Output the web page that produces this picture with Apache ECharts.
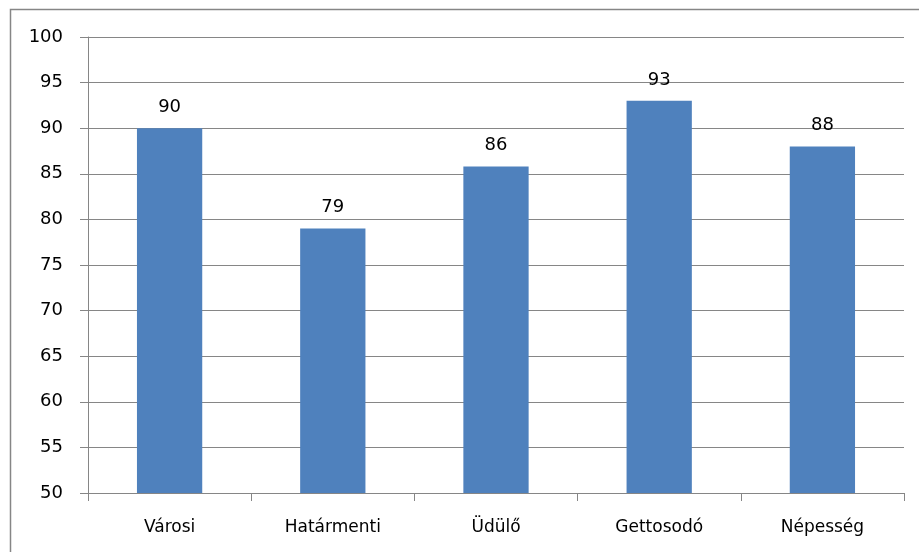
<!DOCTYPE html>
<html>
<head>
<meta charset="utf-8">
<script src="https://cdn.jsdelivr.net/npm/echarts@6/dist/echarts.min.js"></script>
<style>
html,body{margin:0;padding:0;background:#fff;}
#c{width:919px;height:552px;}
</style>
</head>
<body>
<div id="c"></div>
<script>
const categories = ['Városi', 'Határmenti', 'Üdülő', 'Gettosodó', 'Népesség'];
const values = [90, 79, 85.8, 93, 88];
const yTicks = {min: 50, max: 100, interval: 5};

const chart = echarts.init(document.getElementById('c'), null, {renderer: 'canvas'});
chart.setOption({
  animation: false,
  backgroundColor: '#fff',
  graphic: [{
    type: 'rect',
    shape: {x: 10.5, y: 9.5, width: 940, height: 560},
    style: {fill: 'none', stroke: '#868686', lineWidth: 1.5},
    silent: true
  }],
  grid: {left: 88, right: 15, top: 37, bottom: 59},
  xAxis: {
    type: 'category',
    data: categories,
    axisLine: {lineStyle: {color: '#868686', width: 1}},
    axisTick: {show: true, length: 8, lineStyle: {color: '#868686'}},
    axisLabel: {color: '#000', fontFamily: 'DejaVu Sans', fontSize: 17, margin: 26}
  },
  yAxis: {
    type: 'value',
    min: yTicks.min, max: yTicks.max, interval: yTicks.interval,
    axisLine: {show: true, lineStyle: {color: '#868686', width: 1}},
    axisTick: {show: true, length: 8, lineStyle: {color: '#868686'}},
    splitLine: {lineStyle: {color: '#868686', width: 1}},
    axisLabel: {color: '#000', fontFamily: 'DejaVu Sans', fontSize: 18, margin: 25}
  },
  series: [{
    type: 'bar',
    data: values,
    barWidth: '40%',
    itemStyle: {color: '#4F81BD'},
    label: {
      show: true, position: 'top', distance: 12,
      color: '#000', fontFamily: 'DejaVu Sans', fontSize: 18,
      formatter: p => Math.round(p.value)
    }
  }]
});
</script>
</body>
</html>
